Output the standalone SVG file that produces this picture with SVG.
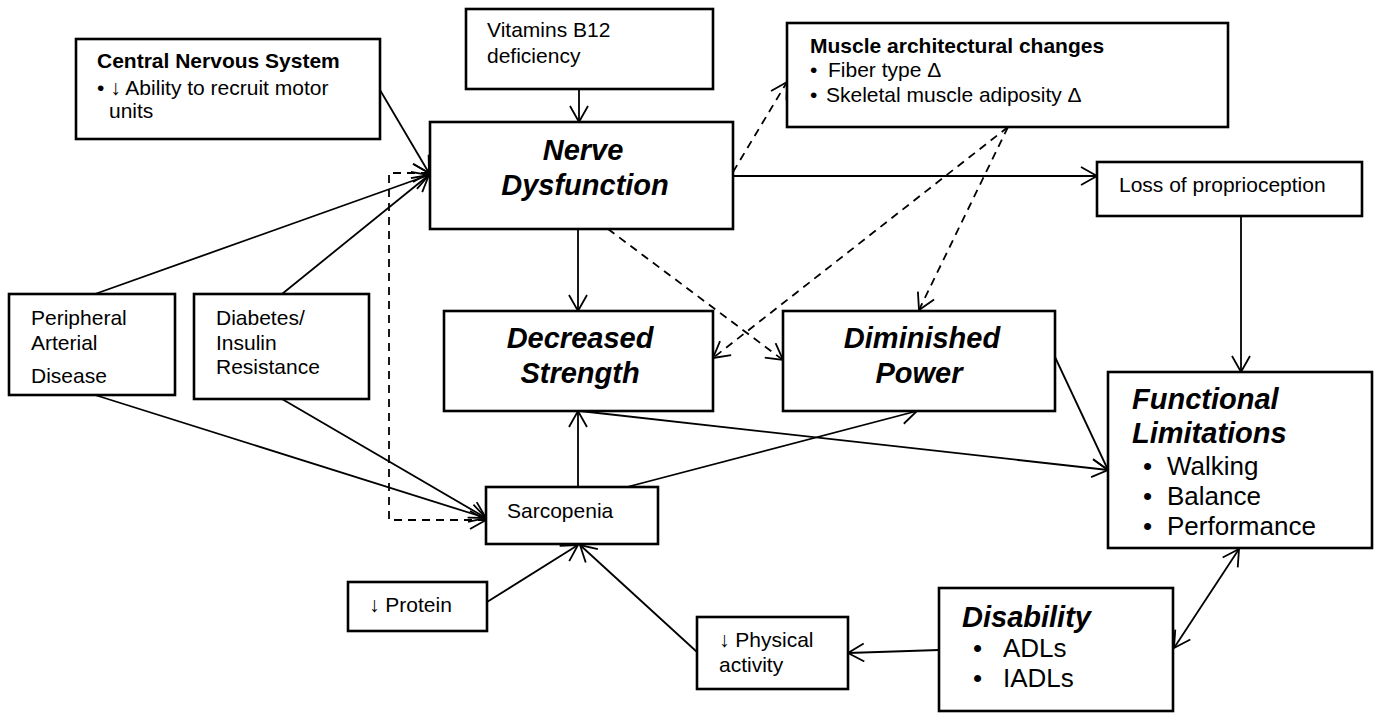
<svg xmlns="http://www.w3.org/2000/svg" width="1380" height="713" viewBox="0 0 1380 713">
<style>
  .box { fill: #fff; stroke: #000; stroke-width: 2.6; }
  .t { font-family: "Liberation Sans", Arial, sans-serif; font-size: 21px; fill: #000; }
  .b { font-weight: bold; }
  .h { font-family: "Liberation Sans", Arial, sans-serif; font-size: 29px; font-weight: bold; font-style: italic; fill: #000; }
  .l { font-family: "Liberation Sans", Arial, sans-serif; font-size: 26px; fill: #000; }
  .c { fill: none; stroke: #000; stroke-width: 1.8; marker-end: url(#ah); }
  .d { stroke-dasharray: 8 6; }
</style>
<defs>
  <marker id="ah" viewBox="0 0 20 20" refX="17.5" refY="10" markerWidth="20" markerHeight="20" markerUnits="userSpaceOnUse" orient="auto-start-reverse">
    <path d="M1.5,1 L17.5,10 L1.5,19" fill="none" stroke="#000" stroke-width="1.8"/>
  </marker>
</defs>
<rect width="1380" height="713" fill="#fff"/>

<g id="connectors">
  <line class="c" x1="380" y1="90" x2="429" y2="173"/>
  <line class="c" x1="95" y1="294" x2="429" y2="175"/>
  <line class="c" x1="282" y1="294" x2="429" y2="175"/>
  <path class="c d" d="M429,173 H389 V520 H486" style="marker-start:url(#ah)"/>
  <line class="c" x1="579" y1="89" x2="579" y2="122"/>
  <line class="c d" x1="733" y1="172" x2="787" y2="82"/>
  <line class="c" x1="733" y1="176" x2="1097" y2="176"/>
  <line class="c" x1="1241" y1="216" x2="1241" y2="372"/>
  <line class="c" x1="578" y1="229" x2="578" y2="311"/>
  <line class="c d" x1="608" y1="229" x2="783" y2="360"/>
  <line class="c d" x1="1008" y1="127" x2="713" y2="358"/>
  <line class="c d" x1="1008" y1="127" x2="919" y2="310"/>
  <line class="c" x1="1055" y1="357" x2="1108" y2="470"/>
  <line class="c" x1="580" y1="411" x2="1108" y2="470"/>
  <line class="c" x1="578" y1="487" x2="578" y2="411"/>
  <line class="c" x1="627" y1="487" x2="917" y2="411"/>
  <line class="c" x1="95" y1="395" x2="486" y2="518"/>
  <line class="c" x1="282" y1="399" x2="486" y2="518"/>
  <line class="c" x1="487" y1="602" x2="578" y2="545"/>
  <line class="c" x1="697" y1="652" x2="580" y2="545"/>
  <line class="c" x1="939" y1="650" x2="848" y2="653"/>
  <line class="c" x1="1174" y1="648" x2="1239" y2="549" style="marker-start:url(#ah)"/>
</g>

<g id="cns">
  <rect class="box" x="76" y="39" width="304" height="100"/>
  <text class="t b" x="97" y="68">Central Nervous System</text>
  <text class="t" x="97" y="95">• ↓ Ability to recruit motor</text>
  <text class="t" x="109" y="118">units</text>
</g>

<g id="vitamins">
  <rect class="box" x="466" y="9" width="247" height="80"/>
  <text class="t" x="487" y="37">Vitamins B12</text>
  <text class="t" x="487" y="63">deficiency</text>
</g>

<g id="muscle">
  <rect class="box" x="787" y="23" width="441" height="104"/>
  <text class="t b" x="810" y="53">Muscle architectural changes</text>
  <text class="t" x="810" y="77">•<tspan x="828">Fiber type Δ</tspan></text>
  <text class="t" x="810" y="102">•<tspan x="826">Skeletal muscle adiposity Δ</tspan></text>
</g>

<g id="nerve">
  <rect class="box" x="430" y="122" width="303" height="107"/>
  <text class="h" x="583" y="160" text-anchor="middle">Nerve</text>
  <text class="h" x="585" y="195" text-anchor="middle">Dysfunction</text>
</g>

<g id="loss">
  <rect class="box" x="1097" y="162" width="265" height="54"/>
  <text class="t" x="1119" y="192">Loss of proprioception</text>
</g>

<g id="pad">
  <rect class="box" x="9" y="294" width="166" height="101"/>
  <text class="t" x="31" y="325">Peripheral</text>
  <text class="t" x="31" y="350">Arterial</text>
  <text class="t" x="31" y="383">Disease</text>
</g>

<g id="diabetes">
  <rect class="box" x="194" y="294" width="175" height="105"/>
  <text class="t" x="216" y="325">Diabetes/</text>
  <text class="t" x="216" y="350">Insulin</text>
  <text class="t" x="216" y="374">Resistance</text>
</g>

<g id="strength">
  <rect class="box" x="444" y="311" width="269" height="100"/>
  <text class="h" x="580" y="348" text-anchor="middle">Decreased</text>
  <text class="h" x="580" y="383" text-anchor="middle">Strength</text>
</g>

<g id="power">
  <rect class="box" x="783" y="311" width="272" height="100"/>
  <text class="h" x="922" y="348" text-anchor="middle">Diminished</text>
  <text class="h" x="919" y="383" text-anchor="middle">Power</text>
</g>

<g id="functional">
  <rect class="box" x="1108" y="372" width="264" height="176"/>
  <text class="h" x="1132" y="409">Functional</text>
  <text class="h" x="1132" y="443">Limitations</text>
  <text class="l" x="1143" y="475">•<tspan x="1167">Walking</tspan></text>
  <text class="l" x="1143" y="505">•<tspan x="1167">Balance</tspan></text>
  <text class="l" x="1143" y="535">•<tspan x="1167">Performance</tspan></text>
</g>

<g id="sarcopenia">
  <rect class="box" x="486" y="487" width="172" height="57"/>
  <text class="t" x="507" y="518">Sarcopenia</text>
</g>

<g id="protein">
  <rect class="box" x="348" y="582" width="139" height="49"/>
  <text class="t" x="369" y="612">↓ Protein</text>
</g>

<g id="physical">
  <rect class="box" x="697" y="617" width="151" height="72"/>
  <text class="t" x="719" y="647">↓ Physical</text>
  <text class="t" x="719" y="672">activity</text>
</g>

<g id="disability">
  <rect class="box" x="939" y="588" width="234" height="123"/>
  <text class="h" x="962" y="627">Disability</text>
  <text class="l" x="973" y="657">•<tspan x="1003">ADLs</tspan></text>
  <text class="l" x="973" y="687">•<tspan x="1003">IADLs</tspan></text>
</g>
</svg>
